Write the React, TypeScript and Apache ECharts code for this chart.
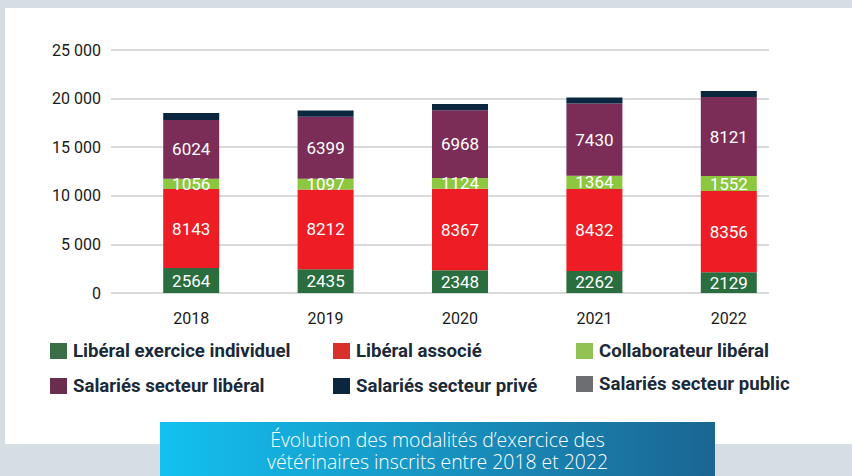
import React, { useEffect, useRef } from "react";
import * as echarts from "echarts";

const years = ["2018", "2019", "2020", "2021", "2022"];
const seriesNames = [
  "Libéral exercice individuel",
  "Libéral associé",
  "Collaborateur libéral",
  "Salariés secteur libéral",
  "Salariés secteur privé",
  "Salariés secteur public",
];
const liberalIndividuel = [2564, 2435, 2348, 2262, 2129];
const liberalAssocie = [8143, 8212, 8367, 8432, 8356];
const collaborateurLiberal = [1056, 1097, 1124, 1364, 1552];
const salariesLiberal = [6024, 6399, 6968, 7430, 8121];
const salariesPrive = [720, 640, 640, 620, 620];
const salariesPublic = [0, 0, 0, 0, 0];
const yTicks = [0, 5000, 10000, 15000, 20000, 25000];
const caption = ["Évolution des modalités d’exercice des", "vétérinaires inscrits entre 2018 et 2022"];

const barColors = ["#2a6e3f", "#ee1c25", "#8dc63f", "#7b2d57", "#0b2740", "#6d6e71"];
const legendColors = ["#3a6e46", "#d9302c", "#93c254", "#6b2d4f", "#0b2740", "#6d6e71"];
const labelled = [true, true, true, true, false, false];

const fmt = (v: number) => String(v).replace(/\B(?=(\d{3})+(?!\d))/g, " ");

export default function App() {
  const ref = useRef<HTMLDivElement>(null);
  useEffect(() => {
    document.body.style.margin = "0";
    const chart = echarts.init(ref.current!, null, { renderer: "svg" });
    const values = [liberalIndividuel, liberalAssocie, collaborateurLiberal, salariesLiberal, salariesPrive, salariesPublic];

    const legendPos = [
      [50, 351], [333, 351], [576, 351],
      [50, 386], [333, 386], [576, 384],
    ];
    const legendGraphics: any[] = [];
    seriesNames.forEach((n, i) => {
      const [x, y] = legendPos[i];
      legendGraphics.push({
        type: "rect", left: x, top: y - 8, shape: { width: 17, height: 16 },
        style: { fill: legendColors[i] }, z: 10,
      });
      legendGraphics.push({
        type: "text", x: x + 23, y: y, scaleX: 0.98,
        style: {
          text: n, fill: "#1b2a38", font: "bold 19px Roboto", textVerticalAlign: "middle",
        }, z: 10,
      });
    });

    chart.setOption({
      animation: false,
      backgroundColor: "#d6dde3",
      graphic: [
        { type: "rect", shape: { x: 5, y: 8, width: 852, height: 436 }, style: { fill: "#ffffff" }, z: -10 },
        ...legendGraphics,
        {
          type: "rect", shape: { x: 160, y: 422, width: 555, height: 60 }, z: 10,
          style: {
            fill: new echarts.graphic.LinearGradient(0, 0, 1, 0, [
              { offset: 0, color: "#13c1f0" },
              { offset: 1, color: "#1b6592" },
            ]),
          },
        },
        {
          type: "text", x: 437.5, y: 439, z: 11, scaleX: 0.97,
          style: { text: caption[0], fill: "#ffffff", font: "300 20px 'Open Sans'", textAlign: "center", textVerticalAlign: "middle" },
        },
        {
          type: "text", x: 437.5, y: 461, z: 11, scaleX: 0.97,
          style: { text: caption[1], fill: "#ffffff", font: "300 20px 'Open Sans'", textAlign: "center", textVerticalAlign: "middle" },
        },
      ],
      grid: [
        { left: 111, right: 83, top: 50, height: 243 },
        { left: 124, right: 56, top: 50, height: 243 },
      ],
      xAxis: [
        { type: "category", gridIndex: 0, data: years, show: false },
        {
          type: "category", gridIndex: 1, data: years,
          axisLine: { show: false }, axisTick: { show: false },
          axisLabel: { color: "#1a1a1a", fontSize: 16, fontFamily: "Roboto", margin: 17 },
        },
      ],
      yAxis: [
        {
          type: "value", gridIndex: 0, min: yTicks[0], max: yTicks[yTicks.length - 1], interval: 5000,
          axisLine: { show: false }, axisTick: { show: false },
          axisLabel: { color: "#1a1a1a", fontSize: 16, fontFamily: "Roboto", margin: 10, formatter: (v: number) => fmt(v) },
          splitLine: { lineStyle: { color: "#d9d9d9", width: 2 } },
        },
        {
          type: "value", gridIndex: 1, min: yTicks[0], max: yTicks[yTicks.length - 1], interval: 5000,
          show: false, splitLine: { show: false },
        },
      ],
      series: seriesNames.map((n, i) => ({
        name: n,
        type: "bar",
        stack: "total",
        xAxisIndex: 1,
        yAxisIndex: 1,
        barWidth: 56,
        data: values[i],
        itemStyle: { color: barColors[i] },
        label: {
          show: labelled[i], position: "inside", color: "#ffffff",
          fontSize: 17, fontFamily: "Roboto",
        },
      })),
    });
    return () => chart.dispose();
  }, []);
  return <div ref={ref} style={{ position: "fixed", left: 0, top: 0, width: 852, height: 476 }} />;
}
